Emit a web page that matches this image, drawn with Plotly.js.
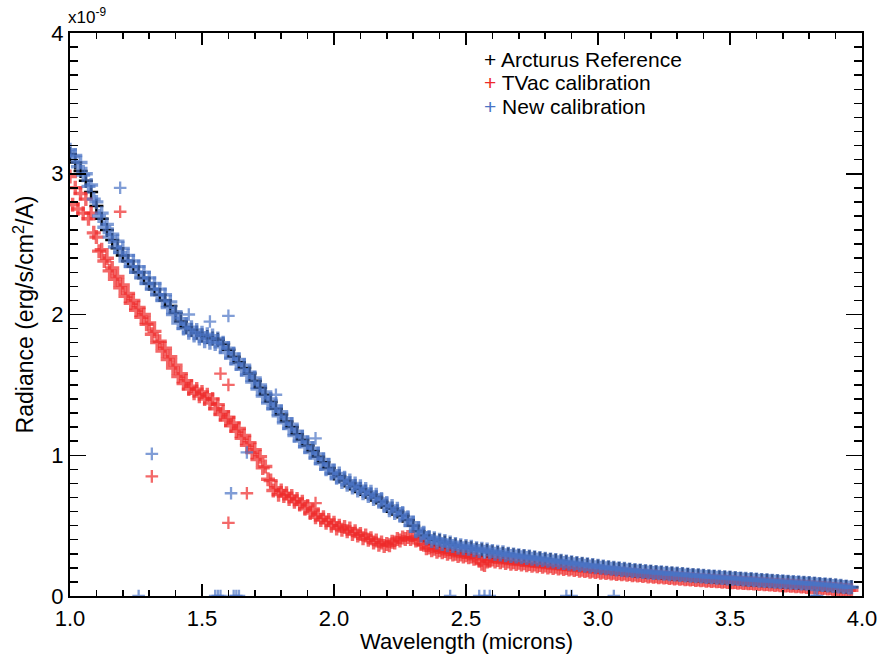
<!DOCTYPE html>
<html>
<head>
<meta charset="utf-8">
<script src="https://cdn.plot.ly/plotly-3.0.1.min.js"></script>
<style>html,body{margin:0;padding:0;background:#fff;}#chart{width:881px;height:660px;}</style>
</head>
<body>
<div id="chart"></div>
<script>
// Fine wavelength grid (microns), used by the two calibrations
const wavelength = [
1.00,1.01,1.02,1.03,1.04,1.05,1.06,1.07,1.08,1.09,1.10,1.11,1.12,1.13,1.14,1.15,1.16,1.17,1.18,1.19,
1.20,1.21,1.22,1.23,1.24,1.25,1.26,1.27,1.28,1.29,1.30,1.31,1.32,1.33,1.34,1.35,1.36,1.37,1.38,1.39,
1.40,1.41,1.42,1.43,1.44,1.45,1.46,1.47,1.48,1.49,1.50,1.51,1.52,1.53,1.54,1.55,1.56,1.57,1.58,1.59,
1.60,1.61,1.62,1.63,1.64,1.65,1.66,1.67,1.68,1.69,1.70,1.71,1.72,1.73,1.74,1.75,1.76,1.77,1.78,1.79,
1.80,1.81,1.82,1.83,1.84,1.85,1.86,1.87,1.88,1.89,1.90,1.91,1.92,1.93,1.94,1.95,1.96,1.97,1.98,1.99,
2.00,2.01,2.02,2.03,2.04,2.05,2.06,2.07,2.08,2.09,2.10,2.11,2.12,2.13,2.14,2.15,2.16,2.17,2.18,2.19,
2.20,2.21,2.22,2.23,2.24,2.25,2.26,2.27,2.28,2.29,2.30,2.31,2.32,2.33,2.34,2.35,2.36,2.37,2.38,2.39,
2.40,2.41,2.42,2.43,2.44,2.45,2.46,2.47,2.48,2.49,2.50,2.51,2.52,2.53,2.54,2.55,2.56,2.57,2.58,2.59,
2.60,2.61,2.62,2.63,2.64,2.65,2.66,2.67,2.68,2.69,2.70,2.71,2.72,2.73,2.74,2.75,2.76,2.77,2.78,2.79,
2.80,2.81,2.82,2.83,2.84,2.85,2.86,2.87,2.88,2.89,2.90,2.91,2.92,2.93,2.94,2.95,2.96,2.97,2.98,2.99,
3.00,3.01,3.02,3.03,3.04,3.05,3.06,3.07,3.08,3.09,3.10,3.11,3.12,3.13,3.14,3.15,3.16,3.17,3.18,3.19,
3.20,3.21,3.22,3.23,3.24,3.25,3.26,3.27,3.28,3.29,3.30,3.31,3.32,3.33,3.34,3.35,3.36,3.37,3.38,3.39,
3.40,3.41,3.42,3.43,3.44,3.45,3.46,3.47,3.48,3.49,3.50,3.51,3.52,3.53,3.54,3.55,3.56,3.57,3.58,3.59,
3.60,3.61,3.62,3.63,3.64,3.65,3.66,3.67,3.68,3.69,3.70,3.71,3.72,3.73,3.74,3.75,3.76,3.77,3.78,3.79,
3.80,3.81,3.82,3.83,3.84,3.85,3.86,3.87,3.88,3.89,3.90,3.91,3.92,3.93,3.94,3.95,3.96];

// Coarse wavelength grid (microns), used by the reference spectrum
const refWavelength = [1.00,1.02,1.04,1.06,1.08,1.10,1.12,1.14,1.16,1.18,1.20,1.22,1.24,1.26,1.28,1.30,1.32,1.34,1.36,1.38,
1.40,1.42,1.44,1.46,1.48,1.50,1.52,1.54,1.56,1.58,1.60,1.62,1.64,1.66,1.68,1.70,1.72,1.74,1.76,1.78,
1.80,1.82,1.84,1.86,1.88,1.90,1.92,1.94,1.96,1.98,2.00,2.02,2.04,2.06,2.08,2.10,2.12,2.14,2.16,2.18,
2.20,2.22,2.24,2.26,2.28,2.30,2.32,2.34,2.36,2.38,2.40,2.42,2.44,2.46,2.48,2.50,2.52,2.54,2.56,2.58,
2.60,2.62,2.64,2.66,2.68,2.70,2.72,2.74,2.76,2.78,2.80,2.82,2.84,2.86,2.88,2.90,2.92,2.94,2.96,2.98,
3.00,3.02,3.04,3.06,3.08,3.10,3.12,3.14,3.16,3.18,3.20,3.22,3.24,3.26,3.28,3.30,3.32,3.34,3.36,3.38,
3.40,3.42,3.44,3.46,3.48,3.50,3.52,3.54,3.56,3.58,3.60,3.62,3.64,3.66,3.68,3.70,3.72,3.74,3.76,3.78,
3.80,3.82,3.84,3.86,3.88,3.90,3.92,3.94,3.96];

// Radiance in units of 1e-9 erg/s/cm2/A
const arcturusRef = [3.14,3.08,3.02,2.95,2.87,2.77,2.68,2.60,2.53,2.47,2.42,2.38,2.34,2.30,2.26,2.22,2.18,2.14,2.10,2.06,
2.01,1.95,1.91,1.89,1.87,1.85,1.84,1.83,1.82,1.79,1.75,1.70,1.66,1.62,1.58,1.53,1.48,1.43,1.38,1.33,
1.29,1.24,1.20,1.15,1.11,1.07,1.03,0.99,0.95,0.91,0.87,0.85,0.82,0.80,0.78,0.76,0.74,0.72,0.70,0.67,
0.64,0.62,0.60,0.57,0.54,0.50,0.46,0.43,0.41,0.40,0.39,0.38,0.37,0.36,0.35,0.345,0.34,0.33,0.325,0.32,
0.31,0.305,0.30,0.295,0.29,0.285,0.28,0.275,0.27,0.265,0.26,0.255,0.25,0.245,0.24,0.235,0.23,0.225,0.22,0.215,
0.21,0.205,0.20,0.196,0.192,0.188,0.184,0.18,0.177,0.173,0.17,0.167,0.164,0.161,0.158,0.155,0.152,0.149,0.146,0.143,
0.14,0.137,0.135,0.132,0.129,0.127,0.124,0.121,0.118,0.116,0.113,0.11,0.108,0.105,0.103,0.10,0.098,0.095,0.093,0.09,
0.088,0.085,0.082,0.079,0.076,0.072,0.068,0.064,0.062];

const tvacCal = [
2.98,2.78,2.90,2.75,2.86,2.72,2.82,2.68,2.72,2.58,2.55,2.45,2.46,2.38,2.40,2.31,2.33,2.25,2.27,2.19,
2.21,2.13,2.15,2.08,2.10,2.03,2.05,1.98,2.00,1.93,1.94,1.86,1.88,1.80,1.81,1.74,1.76,1.68,1.70,1.62,
1.64,1.56,1.58,1.51,1.53,1.47,1.49,1.44,1.47,1.42,1.45,1.40,1.43,1.37,1.40,1.33,1.36,1.29,1.31,1.25,
1.27,1.21,1.23,1.17,1.19,1.12,1.14,1.07,1.09,1.02,1.04,0.97,0.99,0.91,0.92,0.83,0.82,0.75,0.77,0.72,
0.75,0.71,0.73,0.69,0.71,0.67,0.69,0.65,0.67,0.62,0.64,0.59,0.61,0.56,0.58,0.54,0.56,0.52,0.54,0.50,
0.52,0.48,0.50,0.47,0.49,0.46,0.48,0.44,0.46,0.43,0.44,0.41,0.43,0.40,0.41,0.38,0.395,0.365,0.38,0.355,
0.37,0.36,0.385,0.38,0.405,0.395,0.415,0.405,0.42,0.405,0.415,0.395,0.40,0.37,0.365,0.34,0.345,0.325,0.335,0.315,
0.325,0.31,0.32,0.30,0.31,0.295,0.30,0.285,0.295,0.28,0.29,0.275,0.28,0.265,0.275,0.25,0.23,0.22,0.245,0.25,
0.26,0.245,0.255,0.24,0.25,0.235,0.245,0.23,0.24,0.227,0.236,0.223,0.232,0.219,0.228,0.215,0.224,0.211,0.22,0.207,
0.216,0.203,0.211,0.199,0.207,0.195,0.203,0.191,0.199,0.188,0.195,0.184,0.191,0.18,0.187,0.177,0.183,0.173,0.179,0.17,
0.176,0.166,0.172,0.163,0.168,0.16,0.165,0.157,0.162,0.154,0.159,0.151,0.156,0.148,0.153,0.145,0.15,0.142,0.147,0.139,
0.144,0.136,0.141,0.133,0.138,0.131,0.135,0.128,0.132,0.125,0.129,0.122,0.126,0.119,0.123,0.117,0.12,0.114,0.117,0.112,
0.115,0.109,0.112,0.107,0.11,0.104,0.107,0.102,0.105,0.10,0.102,0.097,0.10,0.095,0.097,0.092,0.095,0.09,0.092,0.088,
0.09,0.085,0.088,0.083,0.085,0.081,0.083,0.079,0.081,0.076,0.079,0.074,0.076,0.072,0.074,0.069,0.072,0.067,0.069,0.064,
0.067,0.062,0.064,0.059,0.061,0.056,0.058,0.053,0.055,0.05,0.052,0.047,0.049,0.043,0.045,0.04,0.041];

const newCal = [
3.17,3.12,3.13,3.05,3.08,2.99,3.00,2.91,2.92,2.82,2.80,2.70,2.72,2.62,2.64,2.55,2.57,2.48,2.52,2.44,
2.47,2.38,2.42,2.34,2.38,2.30,2.34,2.26,2.30,2.22,2.26,2.18,2.22,2.14,2.18,2.10,2.14,2.05,2.09,2.00,
2.02,1.94,1.97,1.90,1.93,1.87,1.91,1.85,1.89,1.83,1.87,1.81,1.86,1.80,1.85,1.79,1.83,1.77,1.80,1.73,
1.76,1.69,1.72,1.65,1.68,1.61,1.64,1.57,1.59,1.52,1.55,1.47,1.50,1.42,1.45,1.37,1.40,1.33,1.35,1.28,
1.31,1.23,1.26,1.19,1.22,1.14,1.17,1.10,1.13,1.06,1.09,1.02,1.05,0.98,1.01,0.94,0.97,0.90,0.93,0.87,
0.89,0.84,0.87,0.81,0.84,0.79,0.82,0.77,0.80,0.75,0.78,0.73,0.76,0.71,0.74,0.69,0.72,0.67,0.69,0.64,
0.66,0.61,0.64,0.59,0.62,0.57,0.59,0.54,0.56,0.50,0.52,0.46,0.48,0.43,0.45,0.41,0.42,0.39,0.41,0.38,
0.40,0.37,0.39,0.36,0.38,0.355,0.37,0.345,0.36,0.34,0.355,0.335,0.35,0.325,0.34,0.32,0.335,0.315,0.33,0.31,
0.32,0.30,0.315,0.295,0.31,0.29,0.30,0.285,0.295,0.28,0.29,0.275,0.285,0.27,0.28,0.265,0.275,0.26,0.27,0.255,
0.265,0.25,0.26,0.245,0.255,0.24,0.25,0.235,0.245,0.23,0.24,0.225,0.235,0.22,0.23,0.215,0.225,0.21,0.22,0.205,
0.215,0.20,0.21,0.197,0.205,0.193,0.201,0.189,0.197,0.185,0.193,0.181,0.189,0.177,0.185,0.174,0.181,0.17,0.178,0.167,
0.174,0.164,0.171,0.161,0.168,0.158,0.165,0.155,0.162,0.152,0.159,0.149,0.156,0.146,0.153,0.143,0.15,0.14,0.147,0.138,
0.144,0.135,0.141,0.133,0.139,0.13,0.136,0.127,0.133,0.125,0.131,0.122,0.128,0.12,0.125,0.117,0.122,0.114,0.12,0.112,
0.117,0.109,0.114,0.107,0.112,0.104,0.109,0.102,0.107,0.099,0.104,0.097,0.102,0.094,0.099,0.092,0.097,0.089,0.094,0.087,
0.092,0.084,0.089,0.081,0.086,0.078,0.083,0.075,0.08,0.071,0.076,0.068,0.072,0.064,0.068,0.06,0.062];

// Isolated outlier points
const tvacOutX = [1.19,1.31,1.57,1.60,1.60,1.67,1.93];
const tvacOutY = [2.73,0.85,1.58,1.50,0.52,0.73,0.66];
const newOutX  = [1.19,1.31,1.53,1.60,1.61,1.67,1.78,1.93,1.45,1.26,1.55,1.56,1.57,1.62,1.63,1.64,2.44,2.55,2.57,2.59,2.88,2.90,3.06,3.82,3.83];
const newOutY  = [2.90,1.01,1.95,1.99,0.73,1.02,1.43,1.12,2.00,0,0,0,0,0,0,0,0,0,0,0,0,0,0,0,0];

const seriesNames = ["Arcturus Reference","TVac calibration","New calibration"];
const seriesColors = ["#000000","#ee2a2a","#4a73c5"];

// dense spectrum points drawn a bit heavier (they merge into a band), isolated points thinner
const styleArr = (nMain, nOut, a, b) => Array(nMain).fill(a).concat(Array(nOut).fill(b));
const mk = (c, s, w) => ({symbol:"cross-thin-open", size:s, color:c, line:{color:c, width:w}});
const traces = [
  {x: refWavelength, y: arcturusRef, marker: mk(seriesColors[0], 10, 2.5)},
  {x: wavelength.concat(tvacOutX), y: tvacCal.concat(tvacOutY),
   marker: mk(seriesColors[1], styleArr(wavelength.length, tvacOutX.length, 10, 9), styleArr(wavelength.length, tvacOutX.length, 3.4, 2.3))},
  {x: wavelength.concat(newOutX), y: newCal.concat(newOutY),
   marker: mk(seriesColors[2], styleArr(wavelength.length, newOutX.length, 10, 9), styleArr(wavelength.length, newOutX.length, 3.4, 2.3))}
].map((t,i)=>Object.assign(t,{type:"scatter", mode:"markers", name:seriesNames[i], cliponaxis:true, showlegend:false}));

const FAM = "Liberation Sans, Arial, Helvetica, sans-serif";
const f = s => ({family:FAM, size:s, color:"#000"});

// legend drawn as annotations (symbol + label), positioned in paper coords
const legendY = [0.9538, 0.9112, 0.8686];
const legendAnn = seriesNames.map((n,i)=>({xref:"paper", yref:"paper", x:0.522, y:legendY[i], xanchor:"left", yanchor:"middle",
  showarrow:false, font:f(21), borderpad:0, valign:"middle",
  text:'<span style="color:'+seriesColors[i]+'">+</span> '+n}));

const layout = {
  width:881, height:660,
  margin:{l:70, r:19, t:33, b:64},
  paper_bgcolor:"#fff", plot_bgcolor:"#fff",
  font: f(22),
  showlegend:false,
  xaxis:{range:[1,4], tickvals:[1,1.5,2,2.5,3,3.5,4], ticktext:["1.0","1.5","2.0","2.5","3.0","3.5","4.0"],
    ticks:"inside", ticklen:12, tickwidth:1.5, tickcolor:"#000", mirror:"ticks", showline:true, linewidth:2, linecolor:"#000",
    minor:{dtick:0.1, tick0:1, ticks:"inside", ticklen:6, tickwidth:1.5, tickcolor:"#000"},
    showgrid:false, zeroline:false, tickfont:f(22), ticklabelstandoff:2},
  yaxis:{range:[0,4], tickvals:[0,1,2,3,4], ticktext:["0","1","2","3","4"],
    ticks:"inside", ticklen:16, tickwidth:1.5, tickcolor:"#000", mirror:"ticks", showline:true, linewidth:2, linecolor:"#000",
    minor:{dtick:0.1, tick0:0, ticks:"inside", ticklen:8, tickwidth:1.5, tickcolor:"#000"},
    showgrid:false, zeroline:false, tickfont:f(22),
    title:{text:"Radiance (erg/s/cm<sup>2</sup>/A)", font:f(23), standoff:11}},
  annotations:[
    {xref:"paper", yref:"paper", x:0, y:1, xshift:-4, yshift:4, xanchor:"left", yanchor:"bottom",
     text:"x10<sup>-9</sup>", showarrow:false, font:f(17)},
    {xref:"paper", yref:"paper", x:0.5, y:-0.0817, xanchor:"center", yanchor:"middle", borderpad:0,
     text:"Wavelength (microns)", showarrow:false, font:f(22)}
  ].concat(legendAnn)
};
Plotly.newPlot("chart", traces, layout, {displayModeBar:false, staticPlot:true});
</script>
</body>
</html>
